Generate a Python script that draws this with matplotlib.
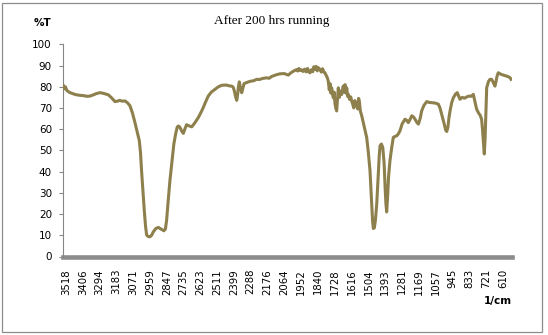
import matplotlib
matplotlib.use("Agg")
import matplotlib.pyplot as plt
from matplotlib.patches import Rectangle

title = "After 200 hrs running"
y_label = "%T"
x_label = "1/cm"
x_tick_labels = [3518, 3406, 3294, 3183, 3071, 2959, 2847, 2735, 2623, 2511, 2399, 2288,
                 2176, 2064, 1952, 1840, 1728, 1616, 1504, 1393, 1281, 1169, 1057, 945,
                 833, 721, 610]
y_ticks = [0, 10, 20, 30, 40, 50, 60, 70, 80, 90, 100]

wavenumber = [3536, 3530, 3522, 3512, 3500, 3491, 3475, 3455, 3430, 3400, 3380, 3358, 3335, 3315,
              3292, 3275, 3255, 3236, 3215, 3200, 3192, 3175, 3160, 3145, 3125, 3108, 3092, 3075,
              3059, 3045, 3030, 3022, 3015, 3005, 2997, 2988, 2981, 2970, 2959, 2948, 2937, 2920,
              2903, 2885, 2866, 2856, 2848, 2838, 2826, 2812, 2800, 2788, 2777, 2768, 2759, 2748,
              2737, 2726, 2715, 2700, 2681, 2660, 2637, 2620, 2604, 2590, 2571, 2550, 2526, 2505,
              2481, 2450, 2430, 2415, 2405, 2397, 2388, 2381, 2375, 2370, 2364, 2356, 2348, 2340,
              2333, 2315, 2290, 2270, 2248, 2230, 2210, 2182, 2165, 2150, 2120, 2093, 2065, 2050,
              2038, 2020, 2000, 1982, 1975, 1968, 1960, 1950, 1940, 1930, 1920, 1910, 1900, 1893,
              1885, 1875, 1868, 1860, 1853, 1845, 1838, 1827, 1818, 1810, 1800, 1794, 1785, 1778,
              1772, 1765, 1760, 1755, 1749, 1744, 1738, 1733, 1727, 1722, 1716, 1710, 1705, 1698,
              1690, 1682, 1676, 1672, 1665, 1660, 1654, 1649, 1643, 1638, 1630, 1622, 1616, 1610,
              1602, 1595, 1588, 1582, 1575, 1570, 1565, 1558, 1549, 1540, 1530, 1516, 1505, 1494,
              1485, 1477, 1472, 1465, 1458, 1449, 1440, 1432, 1427, 1418, 1409, 1400, 1393, 1388,
              1383, 1377, 1370, 1361, 1350, 1339, 1330, 1316, 1305, 1294, 1280, 1261, 1250, 1239,
              1228, 1216, 1205, 1194, 1183, 1172, 1160, 1150, 1135, 1116, 1100, 1083, 1060, 1039,
              1028, 1017, 1000, 990, 983, 975, 968, 961, 950, 939, 925, 913, 905, 895,
              880, 865, 850, 835, 820, 806, 795, 784, 770, 760, 751, 745, 740, 733,
              728, 722, 717, 705, 695, 684, 673, 662, 655, 648, 640, 630, 620, 606,
              590, 575, 561, 555]

transmittance = [80.5, 79.0, 80.0, 78.2, 77.6, 77.2, 76.8, 76.3, 76.0, 75.8, 75.5, 75.6, 76.2, 76.8,
                 77.2, 77.0, 76.6, 76.2, 74.8, 73.6, 73.0, 73.2, 73.6, 73.2, 73.3, 72.4, 71.0, 67.5,
                 63.1, 59.0, 54.6, 49.0, 40.5, 30.0, 21.8, 14.0, 10.1, 9.4, 9.3, 10.0, 11.6, 13.2,
                 13.7, 12.9, 12.1, 13.0, 17.1, 26.0, 35.8, 45.0, 53.0, 57.8, 61.1, 61.5, 60.8, 59.2,
                 58.0, 60.2, 62.1, 61.6, 61.1, 63.0, 65.5, 67.8, 70.2, 72.6, 75.6, 77.5, 78.8, 79.9,
                 80.7, 80.8, 80.4, 80.3, 79.8, 78.0, 75.0, 73.6, 76.5, 80.0, 82.3, 79.0, 77.2, 79.5,
                 81.4, 82.0, 82.6, 82.8, 83.5, 83.4, 83.9, 84.2, 84.0, 84.8, 85.6, 86.1, 86.2, 85.8,
                 85.5, 86.6, 87.5, 88.1, 87.4, 88.6, 87.7, 88.0, 87.2, 88.3, 87.0, 88.6, 86.8, 86.6,
                 88.0, 87.1, 89.4, 88.2, 89.6, 87.5, 89.0, 88.1, 86.9, 88.5, 86.8, 86.6, 85.2, 84.2,
                 82.7, 78.5, 81.5, 77.0, 79.5, 76.5, 74.8, 77.5, 72.0, 70.0, 68.6, 74.5, 79.5, 75.0,
                 78.0, 76.4, 79.0, 80.3, 77.5, 81.0, 77.0, 79.5, 75.5, 76.4, 74.0, 75.2, 73.3, 72.0,
                 70.0, 73.5, 71.0, 71.8, 69.5, 74.5, 73.3, 68.5, 66.3, 63.5, 60.5, 56.1, 49.0, 40.5,
                 28.0, 17.0, 13.2, 13.5, 17.0, 24.9, 37.0, 48.0, 52.2, 53.0, 51.4, 44.0, 32.0, 25.0,
                 21.0, 28.0, 38.0, 45.2, 51.0, 56.1, 56.5, 56.9, 57.8, 59.3, 62.5, 64.7, 64.2, 63.1,
                 64.5, 66.3, 65.8, 64.7, 63.3, 62.4, 65.0, 68.6, 71.2, 73.0, 72.6, 72.5, 72.3, 71.8,
                 70.0, 67.1, 62.5, 59.5, 58.9, 61.0, 65.5, 68.6, 72.5, 74.8, 76.5, 77.2, 75.8, 74.1,
                 75.0, 74.6, 75.2, 75.6, 75.5, 76.4, 73.0, 69.4, 67.5, 66.5, 64.7, 60.0, 55.0, 48.3,
                 55.0, 69.0, 79.5, 82.5, 83.5, 83.5, 82.0, 80.3, 82.5, 85.0, 86.6, 86.2, 85.8, 85.5,
                 85.2, 84.8, 84.2, 83.5]

W, H = 548, 335
fig = plt.figure(figsize=(W / 100, H / 100), dpi=100)
fig.patch.set_facecolor("white")
fig.patches.append(Rectangle((1.5 / W, 3.5 / H), (541.5 - 1.5) / W, (332 - 3.5) / H,
                             transform=fig.transFigure, fill=False,
                             edgecolor="#8c8c8c", linewidth=0.9))

ax = fig.add_axes([63.3 / W, (H - 256.5) / H, (511.7 - 63.3) / W, (256.5 - 44.3) / H])
ax.plot(wavenumber, transmittance, color="#8d804c", linewidth=2.2, solid_joinstyle="round",
        zorder=3)
ax.set_xlim(3536, 550.5)
ax.set_ylim(0, 100)

ax.set_xticks(x_tick_labels)
ax.set_xticklabels([str(v) for v in x_tick_labels], rotation=90, fontsize=7.3,
                   family="DejaVu Sans", va="top", ha="center")
ax.set_yticks(y_ticks)
ax.set_yticklabels([str(v) for v in y_ticks], fontsize=7.5, family="DejaVu Sans")
ax.tick_params(axis="x", length=0, pad=9)
ax.tick_params(axis="y", length=3.2, width=0.8, color="#868686", pad=5)

for s in ["top", "right"]:
    ax.spines[s].set_visible(False)
ax.spines["left"].set_color("#868686")
ax.spines["left"].set_linewidth(0.8)
ax.spines["bottom"].set_color("#8c8c8c")
ax.spines["bottom"].set_linewidth(3.3)
ax.spines["bottom"].set_zorder(2)

fig.text(272 / W, 1 - 21 / H, title, ha="center", va="center", fontsize=9.5,
         family="Liberation Serif")
fig.text(42 / W, 1 - 23 / H, y_label, ha="center", va="center", fontsize=7.5,
         fontweight="bold", family="DejaVu Sans")
fig.text(512 / W, 1 - 300.7 / H, x_label, ha="right", va="center", fontsize=7.5,
         fontweight="bold", family="DejaVu Sans")

fig.savefig("out.png", dpi=100)
